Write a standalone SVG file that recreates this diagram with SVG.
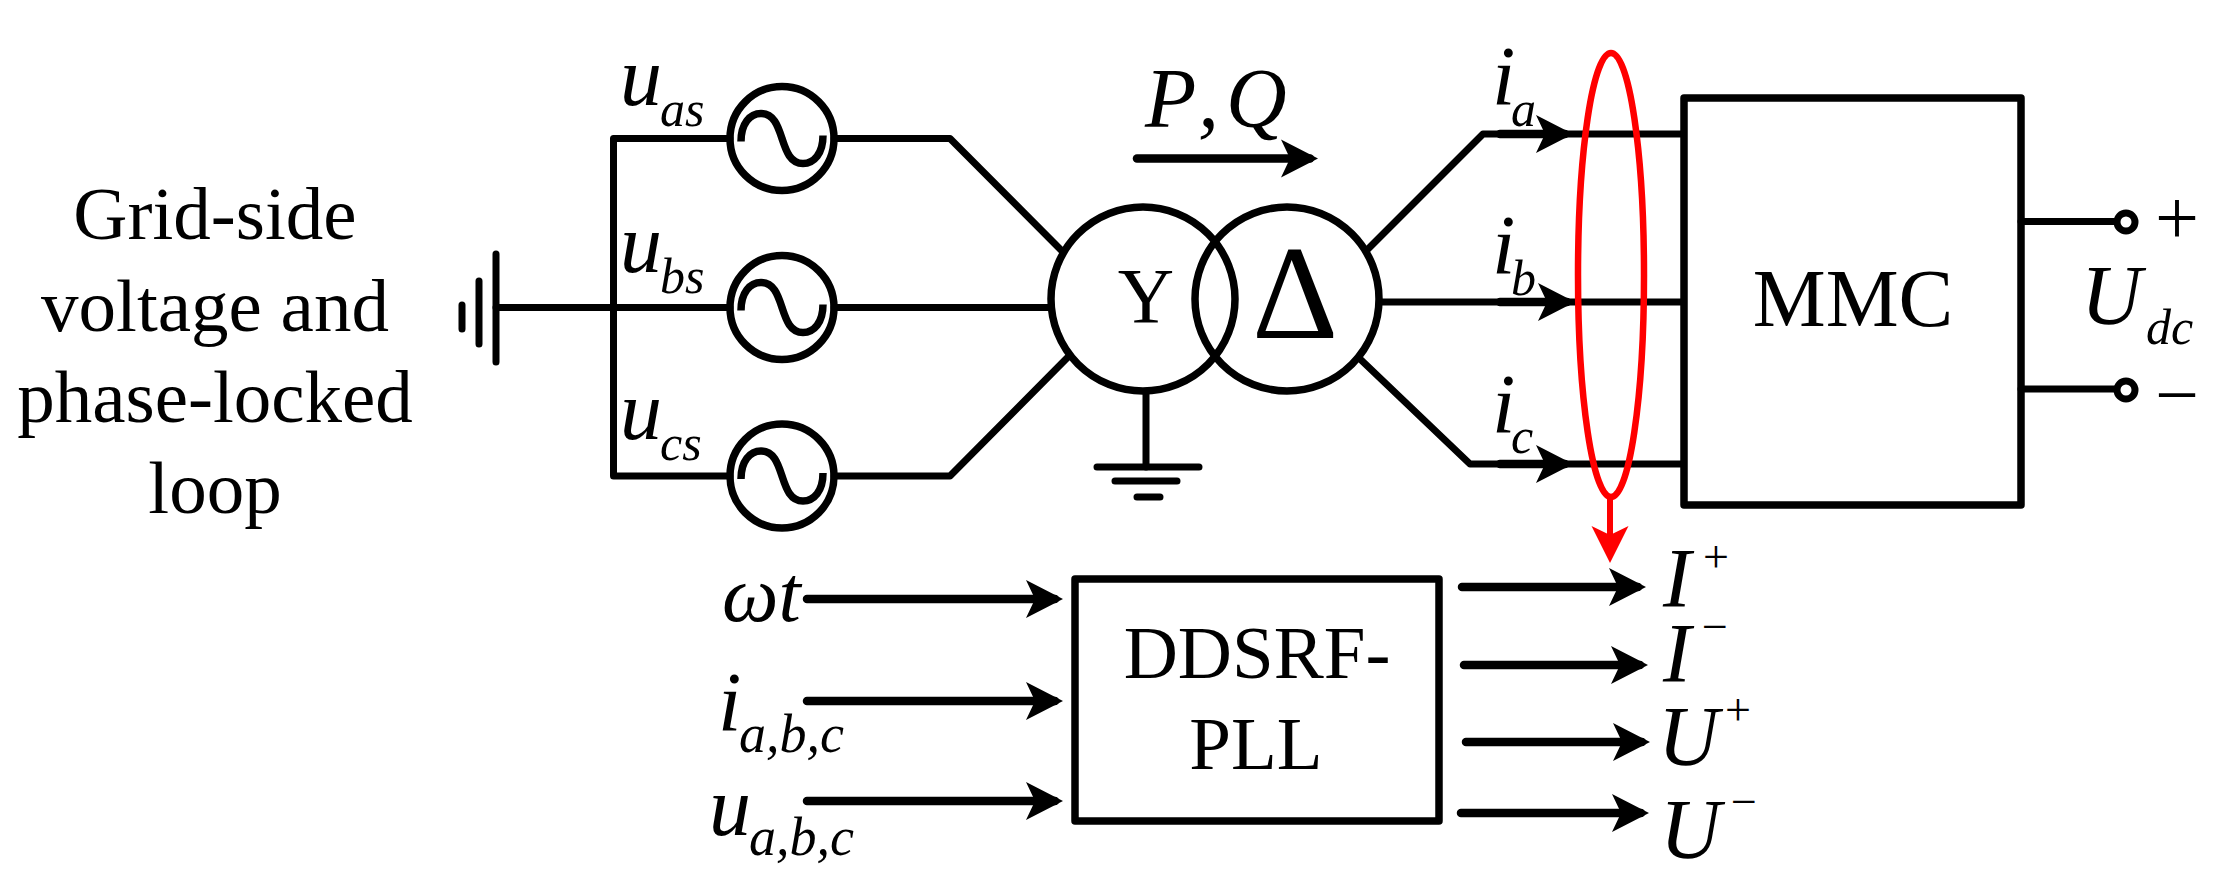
<svg xmlns="http://www.w3.org/2000/svg" width="2237" height="895" viewBox="0 0 2237 895">
<style>
text{font-family:"Liberation Serif","Times New Roman",serif;fill:#000}
.it{font-style:italic;font-size:84px}
.sub{font-style:italic;font-size:50px}
.sub2{font-style:italic;font-size:54px}
.sup{font-style:normal;font-size:46px}
.lbl{font-size:75px;text-anchor:middle}
.w{fill:none;stroke:#000;stroke-width:7;stroke-linejoin:round;stroke-linecap:round}
.a{fill:none;stroke:#000;stroke-width:8.500;stroke-linecap:round;marker-end:url(#ah)}
.box{fill:none;stroke:#000;stroke-width:7.500;stroke-linejoin:round}
.src{fill:none;stroke:#000;stroke-width:7.500}
</style>
<defs>
<marker id="ah" markerUnits="userSpaceOnUse" markerWidth="40" markerHeight="40" viewBox="-40 -20 40 40" refX="-8" refY="0" orient="auto" overflow="visible"><path d="M0,0L-37,-19L-28,0L-37,19Z" fill="#000"/></marker>
<marker id="ar" markerUnits="userSpaceOnUse" markerWidth="40" markerHeight="40" viewBox="-40 -20 40 40" refX="-8" refY="0" orient="auto" overflow="visible"><path d="M0,0L-37,-18.500L-28,0L-37,18.500Z" fill="#f00"/></marker>
<g id="acs"><circle r="52" class="src"/><path class="src" d="M-41,3C-41,-15-32,-25-21,-25C-8,-25-4,-12 0,0C4,12 8,25 21,25C32,25 41,15 41,-3"/></g>
</defs>
<rect width="2237" height="895" fill="#fff"/>
<g id="connectors">
<path class="w" d="M496,307.500H730M613.500,138.500V476M613.500,138.500H730M613.500,476H730M834,138.500H950L1062,251M834,476H950L1069,356M834,307.500H1050"/>
<path class="w" d="M1146,394V467"/>
<path class="w" d="M1366,251L1483,134H1682M1381,302H1682M1359,358L1470,464H1682"/>
<path class="w" d="M2021,221.500H2115M2021,389H2115"/>
<path class="a" d="M1500,134H1565"/>
<path class="a" d="M1500,302H1567"/>
<path class="a" d="M1500,464H1565"/>
<path class="a" d="M1137,158.500H1310"/>
<path class="a" d="M807,599H1055"/>
<path class="a" d="M807,701H1055"/>
<path class="a" d="M807,801H1055"/>
<path class="a" d="M1462,587H1638"/>
<path class="a" d="M1464,665H1640"/>
<path class="a" d="M1466,742H1642"/>
<path class="a" d="M1461,813H1641"/>
<path d="M1610,497V555" fill="none" stroke="#f00" stroke-width="6" marker-end="url(#ar)"/>
</g>
<g id="grid-label">
<text class="lbl" x="215" y="239">Grid-side</text>
<text class="lbl" x="215" y="331">voltage and</text>
<text class="lbl" x="215" y="422">phase-locked</text>
<text class="lbl" x="215" y="513">loop</text>
</g>
<g id="ground-left" class="w"><path d="M496,254V362M479,281V344M462,305V329"/></g>
<g id="source-a"><use href="#acs" x="782" y="138.500"/><text class="it" x="620" y="105">u<tspan class="sub" x="660" y="126">as</tspan></text></g>
<g id="source-b"><use href="#acs" x="782" y="307.500"/><text class="it" x="620" y="272">u<tspan class="sub" x="660" y="293">bs</tspan></text></g>
<g id="source-c"><use href="#acs" x="782" y="476"/><text class="it" x="620" y="439">u<tspan class="sub" x="660" y="460">cs</tspan></text></g>
<g id="transformer">
<circle class="src" cx="1143" cy="299" r="92"/>
<circle class="src" cx="1287" cy="299" r="92"/>
<text x="1146" y="322" font-size="78" text-anchor="middle">Y</text>
<text x="1295" y="338" font-size="134" text-anchor="middle">Δ</text>
</g>
<g id="ground-bottom" class="w"><path d="M1097,467H1199M1115,481H1177M1137,497H1160"/></g>
<g id="power-label"><text class="it" x="1145" y="127">P</text><text class="it" x="1198" y="127">,</text><text class="it" x="1226" y="127">Q</text></g>
<g id="current-a"><text class="it" x="1492" y="105">i<tspan class="sub" x="1511" y="126">a</tspan></text></g>
<g id="current-b"><text class="it" x="1492" y="274">i<tspan class="sub" x="1511" y="295">b</tspan></text></g>
<g id="current-c"><text class="it" x="1492" y="433">i<tspan class="sub" x="1511" y="453">c</tspan></text></g>
<g id="mmc">
<rect class="box" x="1684" y="98" width="337" height="407"/>
<text x="1853" y="326" font-size="82" text-anchor="middle">MMC</text>
</g>
<g id="dc-terminals">
<circle cx="2126" cy="222" r="9" fill="#fff" stroke="#000" stroke-width="7"/>
<circle cx="2126" cy="390" r="9" fill="#fff" stroke="#000" stroke-width="7"/>
<text x="2177" y="244" font-size="78" text-anchor="middle">+</text>
<text x="2177" y="421" font-size="78" text-anchor="middle">−</text>
<text class="it" x="2081" y="324">U<tspan class="sub" x="2146" y="344">dc</tspan></text>
</g>
<g id="pickup"><ellipse cx="1611" cy="275" rx="33" ry="222" fill="none" stroke="#f00" stroke-width="6.500"/></g>
<g id="ddsrf-pll">
<rect class="box" x="1075" y="579" width="364" height="242"/>
<text class="lbl" x="1257" y="678">DDSRF-</text>
<text class="lbl" x="1256" y="769">PLL</text>
</g>
<g id="inputs">
<text class="it" x="722" y="621" style="font-size:80px">ωt</text>
<text class="it" x="718" y="731">i<tspan class="sub2" x="739" y="752">a,b,c</tspan></text>
<text class="it" x="709" y="835">u<tspan class="sub2" x="749" y="855">a,b,c</tspan></text>
</g>
<g id="outputs">
<text class="it" x="1663" y="607">I<tspan class="sup" x="1703" y="572">+</tspan></text>
<text class="it" x="1663" y="682">I<tspan class="sup" x="1702" y="642">−</tspan></text>
<text class="it" x="1658" y="765">U<tspan class="sup" x="1725" y="725">+</tspan></text>
<text class="it" x="1660" y="858">U<tspan class="sup" x="1731" y="817">−</tspan></text>
</g>
</svg>
